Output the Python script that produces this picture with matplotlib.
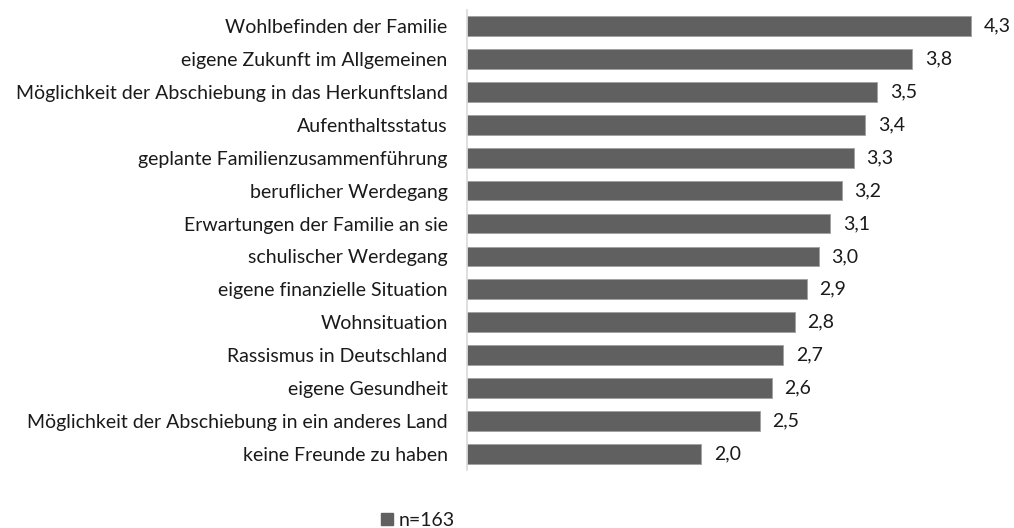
import matplotlib.pyplot as plt
import matplotlib.patches as patches

labels = [
    "Wohlbefinden der Familie",
    "eigene Zukunft im Allgemeinen",
    "Möglichkeit der Abschiebung in das Herkunftsland",
    "Aufenthaltsstatus",
    "geplante Familienzusammenführung",
    "beruflicher Werdegang",
    "Erwartungen der Familie an sie",
    "schulischer Werdegang",
    "eigene finanzielle Situation",
    "Wohnsituation",
    "Rassismus in Deutschland",
    "eigene Gesundheit",
    "Möglichkeit der Abschiebung in ein anderes Land",
    "keine Freunde zu haben",
]

values = [4.3, 3.8, 3.5, 3.4, 3.3, 3.2, 3.1, 3.0, 2.9, 2.8, 2.7, 2.6, 2.5, 2.0]

legend_label = "n=163"

BAR_COLOR = "#606060"
TEXT_COLOR = "#1a1a1a"

plt.rcParams["font.family"] = ["Lato", "DejaVu Sans"]

fig = plt.figure(figsize=(10.14, 5.28), dpi=100)
ax = fig.add_axes([0.4606, 0.109, 0.52, 0.873])

y = list(range(len(labels)))

ax.barh(
    y,
    values,
    height=0.6,
    color=BAR_COLOR,
    edgecolor="#a0a0a0",
    linewidth=0.6,
    label=legend_label
)

for yi, v in zip(y, values):
    ax.annotate(
        f"{v:.1f}".replace(".", ","),
        xy=(v, yi),
        xytext=(9, 0),
        textcoords="offset points",
        va="center",
        ha="left",
        fontsize=14,
        color=TEXT_COLOR,
        annotation_clip=False
    )

ax.set_ylim(len(labels) - 0.5, -0.5)
ax.set_xlim(0, 4.5)

ax.set_yticks(y)
ax.set_yticklabels(labels, fontsize=14, color=TEXT_COLOR)
ax.tick_params(axis="y", length=0, pad=14)
ax.set_xticks([])

for side in ["top", "right", "bottom"]:
    ax.spines[side].set_visible(False)
ax.spines["left"].set_color("#d9d9d9")
ax.spines["left"].set_linewidth(1.2)

fig.legend(
    handles=[patches.Patch(color=BAR_COLOR, label=legend_label)],
    loc="lower center",
    bbox_to_anchor=(0.412, -0.035),
    frameon=False,
    fontsize=14,
    handlelength=0.6,
    handleheight=0.6,
    handletextpad=0.3,
    labelcolor=TEXT_COLOR
)

fig.savefig("out.png", dpi=100)
plt.close(fig)
